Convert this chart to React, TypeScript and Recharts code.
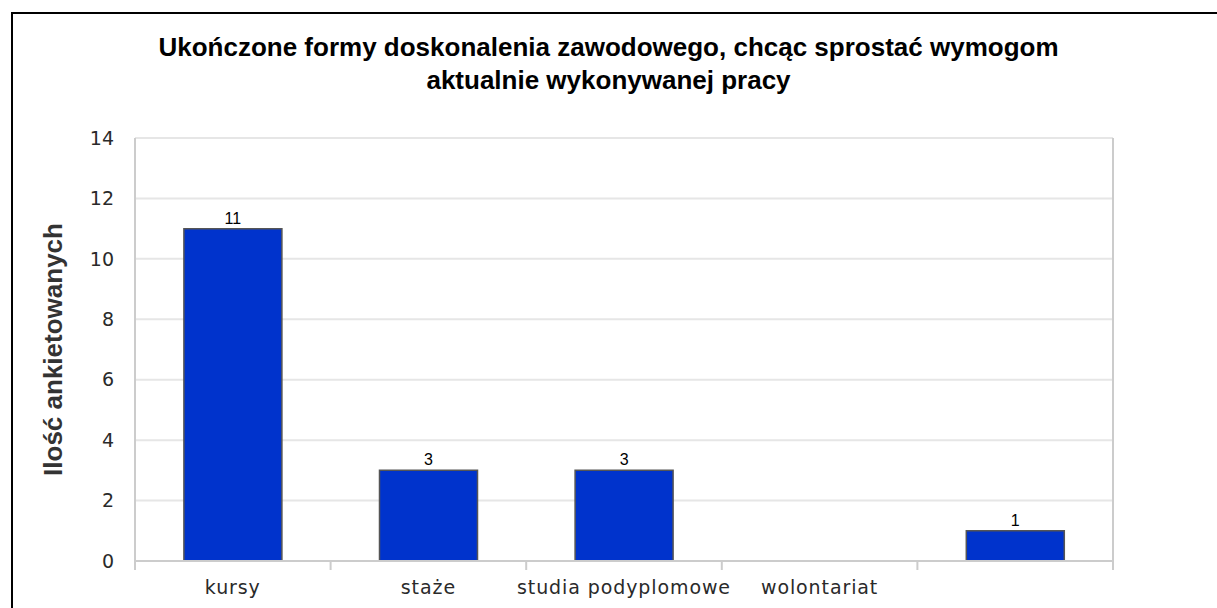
import React from 'react'
import { BarChart, Bar, XAxis, YAxis, CartesianGrid, LabelList, Label } from 'recharts'

// dane z ankiety
const categories = ['kursy', 'staże', 'studia podyplomowe', 'wolontariat', '']
const counts = [11, 3, 3, 0, 1]
const yTicks = [0, 2, 4, 6, 8, 10, 12, 14]
const boundaryTicks = [0, 1, 2, 3, 4, 5]

const titleLines = [
  'Ukończone formy doskonalenia zawodowego, chcąc sprostać wymogom',
  'aktualnie wykonywanej pracy',
]
const yTitle = 'Ilość ankietowanych'

const data = categories.map((name, i) => ({ name, value: counts[i], idx: i }))

const tickFont = { fontFamily: 'DejaVu Sans', fontSize: 19, fill: '#2a2a2a' }

function YTitle(props: any) {
  const vb = props.viewBox
  const cx = vb.x - 22
  const cy = vb.y + vb.height / 2
  return (
    <text
      x={cx}
      y={cy}
      transform={`rotate(-90, ${cx}, ${cy})`}
      textAnchor="middle"
      dominantBaseline="central"
      fontFamily="Liberation Sans, Arial, sans-serif"
      fontWeight="bold"
      fontSize={26}
      fill="#333"
    >
      {yTitle}
    </text>
  )
}

// tylko kreska podziałki, bez tekstu
const EmptyTick = () => <g />

export default function App() {
  return (
    <div style={{ position: 'absolute', left: 0, top: 0, width: 1217, height: 608, overflow: 'hidden', background: '#fff' }}>
      <div
        style={{
          position: 'absolute',
          left: 11,
          top: 12,
          right: 0,
          bottom: 0,
          borderTop: '2px solid #000',
          borderLeft: '2px solid #000',
        }}
      />
      <div
        style={{
          position: 'absolute',
          top: 31,
          left: 0,
          width: 1217,
          textAlign: 'center',
          fontFamily: 'Liberation Sans, Arial, sans-serif',
          fontWeight: 'bold',
          fontSize: 26,
          lineHeight: '33px',
          color: '#000',
        }}
      >
        {titleLines.map((t) => (
          <div key={t}>{t}</div>
        ))}
      </div>
      <div style={{ position: 'absolute', left: 0, top: 0 }}>
        <BarChart
          width={1217}
          height={608}
          data={data}
          margin={{ top: 138, right: 103, left: 75, bottom: 0 }}
          barCategoryGap="25%"
        >
          <CartesianGrid vertical={false} stroke="#e6e6e6" strokeWidth={2} />
          <XAxis
            xAxisId="a_grid"
            type="number"
            dataKey="idx"
            domain={[0, 5]}
            allowDataOverflow
            ticks={boundaryTicks}
            interval={0}
            tick={EmptyTick}
            tickSize={9}
            tickLine={{ stroke: '#cccccc', strokeWidth: 2 }}
            axisLine={{ stroke: '#cccccc', strokeWidth: 2 }}
            height={2}
          />
          <XAxis
            xAxisId="b_cat"
            dataKey="name"
            interval={0}
            tickLine={false}
            axisLine={false}
            tickMargin={12}
            tick={{ ...tickFont, letterSpacing: 0.9 }}
            height={45}
          />
          <YAxis
            domain={[0, 14]}
            ticks={yTicks}
            width={60}
            tickLine={false}
            tickMargin={15}
            tick={tickFont}
            axisLine={{ stroke: '#cccccc', strokeWidth: 2 }}
          >
            <Label content={<YTitle />} />
          </YAxis>
          <YAxis
            yAxisId="r"
            orientation="right"
            domain={[0, 14]}
            width={1}
            tick={false}
            tickLine={false}
            axisLine={{ stroke: '#cccccc', strokeWidth: 2 }}
          />
          <Bar
            xAxisId="b_cat"
            dataKey="value"
            fill="#0033cc"
            stroke="#555555"
            strokeWidth={1.5}
            isAnimationActive={false}
          >
            <LabelList
              dataKey="value"
              position="top"
              offset={5}
              formatter={(v: any) => (v ? v : '')}
              style={{ fontFamily: 'Liberation Sans, Arial, sans-serif', fontSize: 16, fill: '#000' }}
            />
          </Bar>
        </BarChart>
      </div>
    </div>
  )
}
